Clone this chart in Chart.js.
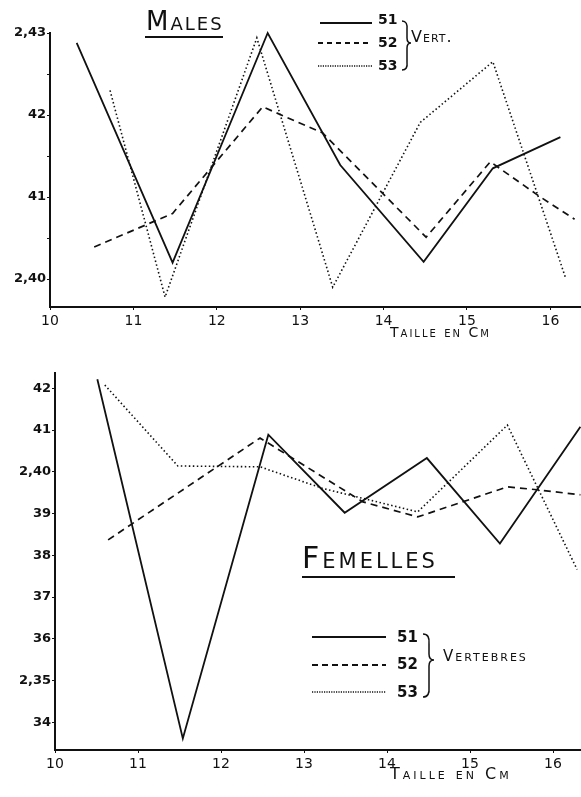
<!DOCTYPE html>
<html>
<head>
<meta charset="utf-8">
<script src="https://cdn.jsdelivr.net/npm/chart.js@4"></script>
<style>
  body { margin: 0; background: #fff; width: 581px; height: 797px; position: relative; overflow: hidden;
         font-family: "DejaVu Sans", sans-serif; color: #111; }
  canvas { position: absolute; left: 0; }
  .txt { position: absolute; font-variant: small-caps; white-space: nowrap; line-height: 1; }
  .num { position: absolute; font-weight: bold; line-height: 1; }
  .uline { position: absolute; height: 2px; background: #111; }
  svg { position: absolute; left: 0; top: 0; }
</style>
</head>
<body>
<canvas id="malesChart" width="581" height="345" style="top:0"></canvas>
<canvas id="femChart" width="581" height="452" style="top:345px"></canvas>

<div class="txt" style="left:146px;top:8px;font-size:26px;letter-spacing:2px">Males</div>
<div class="uline" style="left:145px;top:36px;width:78px"></div>
<div class="num" style="left:378px;top:12px;font-size:14px">51</div>
<div class="num" style="left:378px;top:35px;font-size:14px">52</div>
<div class="num" style="left:378px;top:58px;font-size:14px">53</div>
<div class="txt" style="left:411px;top:29px;font-size:16px;letter-spacing:1px">Vert.</div>
<div class="txt" style="left:390px;top:325px;font-size:14px;letter-spacing:2px">Taille en Cm</div>

<div class="txt" style="left:302px;top:543px;font-size:30px;letter-spacing:3px">Femelles</div>
<div class="uline" style="left:302px;top:576px;width:153px"></div>
<div class="num" style="left:397px;top:630px;font-size:15px">51</div>
<div class="num" style="left:397px;top:657px;font-size:15px">52</div>
<div class="num" style="left:397px;top:685px;font-size:15px">53</div>
<div class="txt" style="left:443px;top:649px;font-size:15px;letter-spacing:2px">Vertebres</div>
<div class="txt" style="left:390px;top:766px;font-size:16px;letter-spacing:3px">Taille en Cm</div>

<svg width="581" height="797">
  <g stroke="#111" fill="none">
    <line x1="320" y1="23" x2="372" y2="23" stroke-width="2"/>
    <line x1="318" y1="43" x2="372" y2="43" stroke-width="2" stroke-dasharray="5,4"/>
    <line x1="318" y1="66" x2="372" y2="66" stroke-width="1.5" stroke-dasharray="1.2,1.2"/>
    <path d="M402 21 Q408 21 407 30 L407 38 Q407 43 411 43 Q407 43 407 48 L407 62 Q408 70 402 70" stroke-width="1.5"/>
    <line x1="312" y1="637" x2="386" y2="637" stroke-width="1.8"/>
    <line x1="312" y1="665" x2="386" y2="665" stroke-width="2" stroke-dasharray="6,4"/>
    <line x1="312" y1="692" x2="386" y2="692" stroke-width="1.3" stroke-dasharray="1.2,1.2"/>
    <path d="M423 634 Q430 634 429 644 L429 654 Q429 660 434 660 Q429 660 429 666 L429 687 Q430 697 423 697" stroke-width="1.5"/>
  </g>
</svg>

<script>
// x values (taille en cm) and y values (rapport)
const xTicks = [10, 11, 12, 13, 14, 15, 16];
const seriesNames = ['51', '52', '53'];

const malesX51 = [10.32, 11.47, 12.61, 13.48, 14.48, 15.31, 16.12];
const malesY51 = [2.4288, 2.4020, 2.4300, 2.4139, 2.4021, 2.4135, 2.4173];
const malesX52 = [10.53, 11.47, 12.55, 13.27, 14.51, 15.28, 15.88, 16.29];
const malesY52 = [2.4039, 2.4080, 2.4210, 2.4178, 2.4051, 2.4143, 2.4100, 2.4073];
const malesX53 = [10.72, 11.38, 12.48, 13.39, 14.44, 15.31, 16.18];
const malesY53 = [2.4230, 2.3978, 2.4294, 2.3990, 2.4191, 2.4265, 2.4002];
const malesYTicks = [2.400, 2.405, 2.410, 2.415, 2.420, 2.425, 2.430];
const malesYLabels = ['2,40', '', '41', '', '42', '', '2,43'];

const femX51 = [10.51, 11.54, 12.57, 13.49, 14.48, 15.36, 16.33];
const femY51 = [2.4222, 2.3361, 2.4089, 2.3902, 2.4033, 2.3828, 2.4108];
const femX52 = [10.64, 12.47, 13.71, 14.37, 15.45, 15.81, 16.33];
const femY52 = [2.3837, 2.4081, 2.3928, 2.3892, 2.3964, 2.3957, 2.3945];
const femX53 = [10.60, 11.48, 12.47, 13.23, 14.37, 15.45, 16.29];
const femY53 = [2.4208, 2.4014, 2.4012, 2.3960, 2.3904, 2.4112, 2.3766];
const femYTicks = [2.34, 2.35, 2.36, 2.37, 2.38, 2.39, 2.40, 2.41, 2.42];
const femYLabels = ['34', '2,35', '36', '37', '38', '39', '2,40', '41', '42'];

const lineStyles = [
  { borderWidth: 1.8, borderDash: [] },
  { borderWidth: 1.7, borderDash: [7, 5] },
  { borderWidth: 1.6, borderDash: [1.5, 2.5] }
];

function pts(xs, ys) {
  return xs.map((x, i) => ({ x: x, y: ys[i] }));
}

function buildChart(id, sets, yTicks, yLabels, opts) {
  const ctx = document.getElementById(id);
  return new Chart(ctx, {
    type: 'line',
    data: {
      datasets: sets.map((d, i) => ({
        label: seriesNames[i],
        data: d,
        borderColor: '#111',
        borderWidth: lineStyles[i].borderWidth,
        borderDash: lineStyles[i].borderDash,
        pointRadius: 0,
        tension: 0,
        fill: false,
        clip: false
      }))
    },
    options: {
      responsive: false,
      devicePixelRatio: 1,
      animation: false,
      layout: { padding: { top: opts.top, right: 0, left: 0, bottom: 0 } },
      plugins: { legend: { display: false }, tooltip: { enabled: false } },
      scales: {
        x: {
          type: 'linear',
          min: 10,
          max: opts.xMax,
          afterBuildTicks: s => { s.ticks = xTicks.map(v => ({ value: v })); },
          afterFit: s => { s.height = opts.xHeight; },
          grid: { drawOnChartArea: false, drawTicks: true, tickLength: 3, color: '#111' },
          border: { color: '#111', width: 2 },
          ticks: { color: '#111', padding: 3, maxRotation: 0, font: { family: 'DejaVu Sans', size: 14 } }
        },
        y: {
          min: opts.yMin,
          max: opts.yMax,
          afterBuildTicks: s => { s.ticks = yTicks.map(v => ({ value: v })); },
          afterFit: s => { s.width = opts.yWidth; },
          grid: { drawOnChartArea: false, drawTicks: true, tickLength: 3, color: '#111' },
          border: { color: '#111', width: 2 },
          ticks: { color: '#111', padding: 1, callback: (v, i) => yLabels[i],
                   font: { family: 'DejaVu Sans', size: 13, weight: 'bold' } }
        }
      }
    }
  });
}

buildChart('malesChart',
  [pts(malesX51, malesY51), pts(malesX52, malesY52), pts(malesX53, malesY53)],
  malesYTicks, malesYLabels,
  { top: 33, xHeight: 38, yWidth: 50, xMax: 16.367, yMin: 2.39659, yMax: 2.43 });

buildChart('femChart',
  [pts(femX51, femY51), pts(femX52, femY52), pts(femX53, femY53)],
  femYTicks, femYLabels,
  { top: 28, xHeight: 47, yWidth: 55, xMax: 16.337, yMin: 2.33335, yMax: 2.42368 });
</script>
</body>
</html>
